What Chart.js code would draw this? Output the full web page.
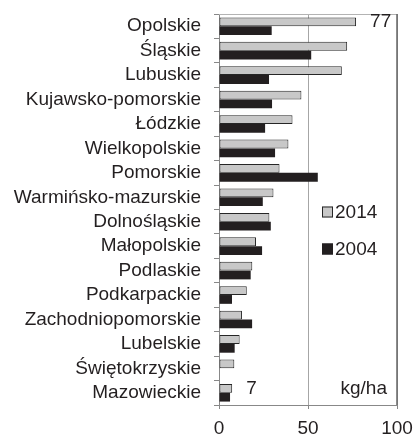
<!DOCTYPE html>
<html>
<head>
<meta charset="utf-8">
<script src="https://cdn.jsdelivr.net/npm/chart.js@4/dist/chart.umd.min.js"></script>
<style>
  html, body { margin: 0; padding: 0; background: #fff; }
  #wrap { width: 414px; height: 435px; }
</style>
</head>
<body>
<div id="wrap"><canvas id="chart"></canvas></div>
<script>
// ========== DATA ==========
const regions = ['Opolskie', 'Śląskie', 'Lubuskie', 'Kujawsko-pomorskie', 'Łódzkie', 'Wielkopolskie',
  'Pomorskie', 'Warmińsko-mazurskie', 'Dolnośląskie', 'Małopolskie', 'Podlaskie', 'Podkarpackie',
  'Zachodniopomorskie', 'Lubelskie', 'Świętokrzyskie', 'Mazowieckie'];
const values2014 = [77, 72, 69, 46.3, 41.3, 39, 34, 30.6, 28.3, 20.8, 18.7, 15.6, 12.9, 11.6, 8.6, 7.4];
const values2004 = [29.6, 51.8, 28.1, 29.8, 25.9, 31.5, 55.5, 24.6, 29.1, 24.2, 17.8, 7.3, 18.6, 8.8, null, 6.2];
const xTicks = [0, 50, 100];
const valueNotes = [
  { region: 'Opolskie', value: 77, text: '77' },
  { region: 'Mazowieckie', value: 7.4, text: '7' }
];
const unitLabel = 'kg/ha';

const FONT = "'Liberation Sans', Arial, sans-serif";
const TEXT = '#231f20';

// ========== PLUGINS ==========
const frameAndNotes = {
  id: 'frameAndNotes',
  afterDatasetsDraw(chart) {
    const { ctx, chartArea: a, scales: { x, y } } = chart;
    ctx.save();
    // top + right edges of the plot box
    ctx.lineWidth = 1;
    ctx.strokeStyle = '#b3b3b3';
    ctx.beginPath();
    ctx.moveTo(a.left, a.top + 0.5);
    ctx.lineTo(a.right, a.top + 0.5);
    ctx.stroke();
    ctx.strokeStyle = '#666';
    ctx.lineWidth = 1.5;
    ctx.beginPath();
    ctx.moveTo(x.getPixelForValue(100), a.top);
    ctx.lineTo(x.getPixelForValue(100), a.bottom);
    ctx.stroke();

    // value notes
    ctx.fillStyle = TEXT;
    ctx.font = '19px ' + FONT;
    ctx.textAlign = 'left';
    ctx.textBaseline = 'middle';
    valueNotes.forEach(n => {
      const yy = y.getPixelForValue(regions.indexOf(n.region)) - 4;
      ctx.fillText(n.text, x.getPixelForValue(n.value) + 14, yy);
    });
    ctx.textAlign = 'right';
    ctx.fillText(unitLabel, a.right - 10, y.getPixelForValue(regions.length - 1) - 4);

    // legend inside the plot
    const lx = a.left + 103, boxSize = 11;
    const ly = [212, 249];
    chart.data.datasets.forEach((ds, i) => {
      ctx.fillStyle = ds.backgroundColor;
      ctx.fillRect(lx, ly[i] - boxSize / 2, boxSize, boxSize);
      ctx.strokeStyle = ds.borderColor;
      ctx.lineWidth = 1;
      ctx.strokeRect(lx + 0.5, ly[i] - boxSize / 2 + 0.5, boxSize - 1, boxSize - 1);
      ctx.fillStyle = TEXT;
      ctx.textAlign = 'left';
      ctx.fillText(ds.label, lx + boxSize + 2, ly[i] + 1);
    });
    ctx.restore();
  }
};

// ========== CHART ==========
new Chart(document.getElementById('chart'), {
  type: 'bar',
  data: {
    labels: regions,
    datasets: [
      {
        label: '2014',
        data: values2014,
        backgroundColor: '#c8c8c8',
        borderColor: '#262626',
        borderWidth: 1,
        borderSkipped: false,
        categoryPercentage: 0.72,
        barPercentage: 1.0
      },
      {
        label: '2004',
        data: values2004,
        backgroundColor: '#231f20',
        borderColor: '#231f20',
        borderWidth: 0,
        categoryPercentage: 0.72,
        barPercentage: 1.0
      }
    ]
  },
  options: {
    indexAxis: 'y',
    responsive: true,
    maintainAspectRatio: false,
    animation: false,
    layout: { padding: { top: 14, right: 17, left: 0, bottom: 0 } },
    plugins: { legend: { display: false }, tooltip: { enabled: false } },
    scales: {
      x: {
        min: 0,
        max: 100,
        afterBuildTicks: (s) => { s.ticks = xTicks.map(v => ({ value: v })); },
        afterFit: (s) => { s.height = 30; s.paddingLeft = 0; s.paddingRight = 0; },
        grid: { color: '#a6a6a6', tickLength: 4, tickColor: '#888' },
        border: { color: '#888' },
        ticks: { font: { family: FONT, size: 19 }, color: TEXT, padding: 8, maxRotation: 0 }
      },
      y: {
        afterFit: (s) => { s.width = 219; s.paddingTop = 0; s.paddingBottom = 0; },
        grid: { drawOnChartArea: false, tickLength: 5, color: '#888' },
        border: { color: '#888' },
        ticks: { font: { family: FONT, size: 19 }, color: TEXT, padding: 13, autoSkip: false }
      }
    }
  },
  plugins: [frameAndNotes]
});
</script>
</body>
</html>
